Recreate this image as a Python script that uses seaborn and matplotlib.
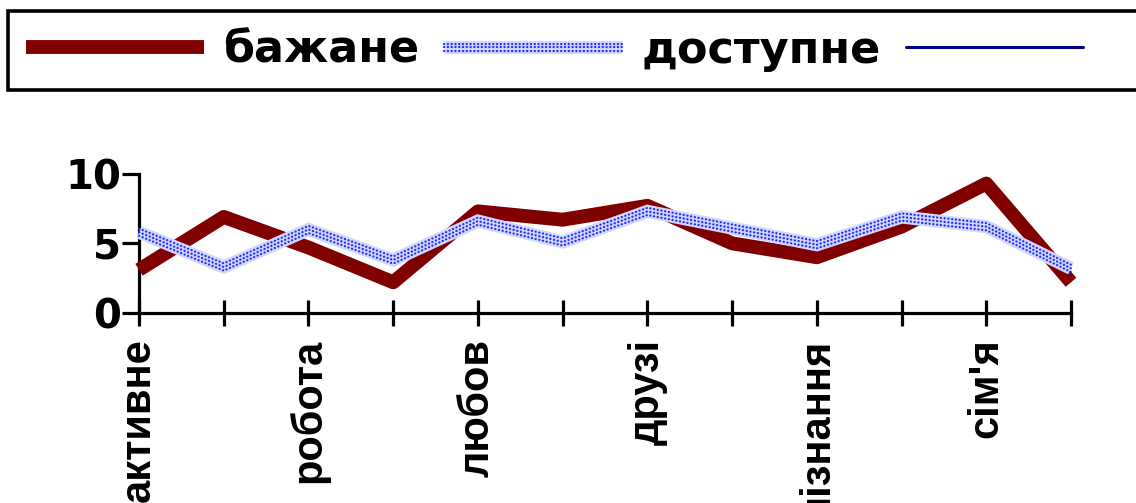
import matplotlib
matplotlib.use('Agg')
import matplotlib.pyplot as plt
import seaborn as sns
import pandas as pd
from matplotlib import patheffects as pe
from matplotlib.legend_handler import HandlerTuple
from matplotlib.lines import Line2D

# data
positions = list(range(12))
tick_labels = ['активне', '', 'робота', '', 'любов', '', 'друзі', '',
               'пізнання', '', "сім'я", '']
series_names = ['бажане', 'доступне', '']
bazhane = [3.1, 6.9, 4.7, 2.2, 7.3, 6.7, 7.7, 5.0, 4.0, 6.2, 9.3, 2.2]
dostupne = [5.8, 3.3, 6.0, 3.8, 6.6, 5.1, 7.3, 6.1, 4.9, 6.9, 6.2, 3.2]
y_ticks = [0, 5, 10]

df = pd.DataFrame({'pos': positions, series_names[0]: bazhane, series_names[1]: dostupne})

sns.set_style('white')
plt.rcParams['font.family'] = ['DejaVu Sans']
plt.rcParams['text.color'] = 'black'
plt.rcParams['xtick.color'] = 'black'
plt.rcParams['ytick.color'] = 'black'

fig = plt.figure(figsize=(11.36, 5.03), dpi=100)
ax = fig.add_axes([0.1224, 0.378, 0.8204, 0.2764])

sns.lineplot(data=df, x='pos', y=series_names[0], ax=ax, color='#800000',
             linewidth=10, solid_joinstyle='round', solid_capstyle='butt',
             clip_on=False, zorder=3)
# patterned line: pale band + rows of blue dots
sns.lineplot(data=df, x='pos', y=series_names[1], ax=ax, color='#d2d7ff',
             linewidth=9.5, solid_joinstyle='miter', solid_capstyle='butt',
             clip_on=False, zorder=4)
sns.lineplot(data=df, x='pos', y=series_names[1], ax=ax, color='#1f2bff',
             linewidth=1.6, linestyle=(0, (0.1, 1.6)), dash_capstyle='round',
             clip_on=False, zorder=5,
             path_effects=[pe.Stroke(offset=(0, 2.6)), pe.Stroke(offset=(0, -2.6)), pe.Normal()])

lines = ax.get_lines()
red_line, blue_base, blue_dots = lines[0], lines[1], lines[2]
navy = Line2D([], [], color='#000080', linewidth=2.2)

ax.set_xlim(0, 11)
ax.set_ylim(0, 10)
ax.set_xlabel('')
ax.set_ylabel('')
sns.despine(ax=ax)
for side in ['left', 'bottom']:
    ax.spines[side].set_color('black')
    ax.spines[side].set_linewidth(2.3)

ax.set_xticks(positions)
ax.set_xticklabels(tick_labels, rotation=90, va='top', ha='center',
                   fontsize=30, fontweight='bold',
                   family=['Liberation Sans Narrow', 'Liberation Sans', 'DejaVu Sans'])
ax.set_yticks(y_ticks)
ax.set_yticklabels([str(v) for v in y_ticks], fontsize=29, fontweight='bold')
ax.tick_params(axis='x', bottom=True, direction='inout', length=19, width=2.3, pad=9,
               color='black', labelcolor='black')
ax.tick_params(axis='y', left=True, direction='out', length=12, width=2.3, pad=1,
               color='black', labelcolor='black')

leg = fig.legend(handles=[red_line, (blue_base, blue_dots), navy],
                 labels=[series_names[0], series_names[1], series_names[2] + '    '],
                 loc='upper left', bbox_to_anchor=(0.007, 0.978), borderaxespad=0, ncol=3,
                 handlelength=4, handletextpad=0.45, columnspacing=0.55,
                 borderpad=0.4, fancybox=False, framealpha=1, edgecolor='black',
                 prop={'weight': 'bold', 'size': 32},
                 handler_map={tuple: HandlerTuple(ndivide=1)})
leg.get_frame().set_linewidth(2.6)
for t in leg.get_texts():
    t.set_color('black')

fig.savefig('out.png', dpi=100)
